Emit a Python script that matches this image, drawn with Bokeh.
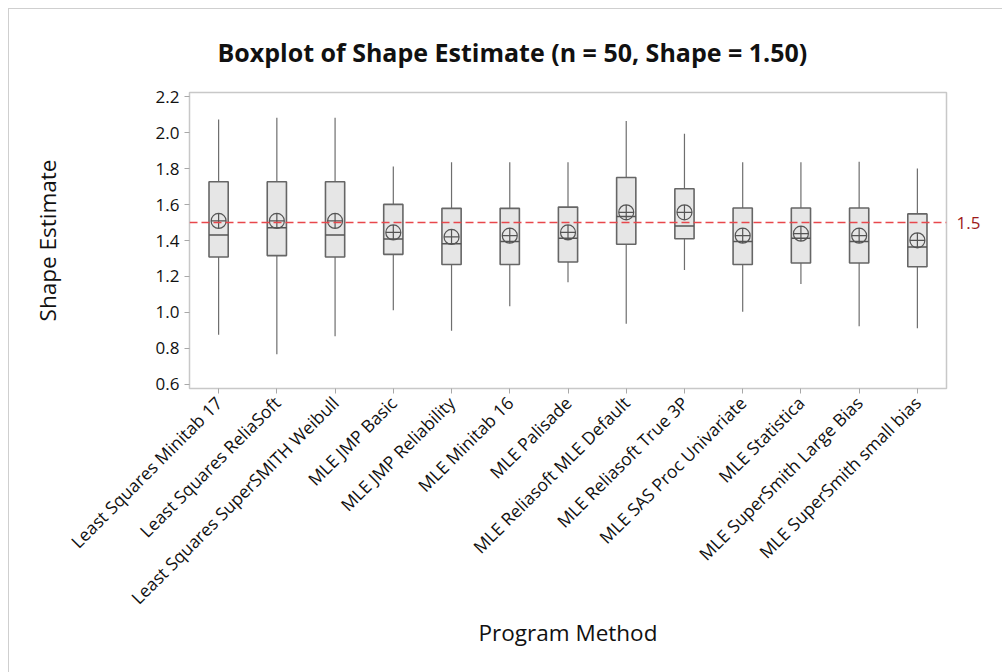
from bokeh.plotting import figure
from bokeh.models import (FactorRange, Range1d, FixedTicker, PrintfTickFormatter,
                          LinearAxis, Span, ColumnDataSource, Title)
from bokeh.embed import file_html
from bokeh.resources import INLINE
import math

categories = [
    "Least Squares Minitab 17", "Least Squares ReliaSoft", "Least Squares SuperSMITH Weibull",
    "MLE JMP Basic", "MLE JMP Reliability", "MLE Minitab 16", "MLE Palisade",
    "MLE Reliasoft MLE Default", "MLE Reliasoft True 3P", "MLE SAS Proc Univariate",
    "MLE Statistica", "MLE SuperSmith Large Bias", "MLE SuperSmith small bias",
]
whisker_low = [0.875, 0.767, 0.867, 1.012, 0.897, 1.034, 1.167, 0.937, 1.236, 1.004, 1.158, 0.922, 0.911]
q1 = [1.308, 1.316, 1.308, 1.323, 1.266, 1.266, 1.280, 1.379, 1.410, 1.266, 1.275, 1.275, 1.254]
median = [1.431, 1.471, 1.431, 1.409, 1.382, 1.394, 1.412, 1.534, 1.481, 1.394, 1.412, 1.394, 1.364]
q3 = [1.727, 1.727, 1.727, 1.601, 1.579, 1.579, 1.586, 1.751, 1.688, 1.581, 1.581, 1.581, 1.548]
whisker_high = [2.074, 2.083, 2.083, 1.812, 1.835, 1.835, 1.835, 2.065, 1.994, 1.835, 1.835, 1.839, 1.801]
mean = [1.509, 1.509, 1.509, 1.445, 1.420, 1.427, 1.445, 1.557, 1.557, 1.427, 1.438, 1.427, 1.401]
y_ticks = [0.6, 0.8, 1.0, 1.2, 1.4, 1.6, 1.8, 2.0, 2.2]
reference_value = 1.5

FONT = "Open Sans"

src = ColumnDataSource(dict(cat=categories, lo=whisker_low, q1=q1, med=median,
                            q3=q3, hi=whisker_high, mean=mean))

p = figure(x_range=FactorRange(*categories, range_padding=0),
           y_range=Range1d(0.576, 2.224),
           frame_width=757, frame_height=296,
           min_border_left=180, min_border_right=56, min_border_top=82, min_border_bottom=285,
           output_backend="svg", toolbar_location=None, title=None)
p.styles = {"margin-left": "8px", "margin-top": "8px",
            "border-left": "1px solid #cfcfcf", "border-top": "1px solid #cfcfcf"}

title = Title(text="Boxplot of Shape Estimate (n = 50, Shape = 1.50)", align="left",
              offset=28, text_font=FONT, text_font_size="25px", text_font_style="bold",
              text_color="#111111", standoff=47)
p.add_layout(title, "above")

p.background_fill_color = "white"
p.border_fill_color = "white"
p.outline_line_color = "#c8c8c8"
p.outline_line_width = 1.5
p.xgrid.visible = False
p.ygrid.visible = False

# reference line
p.add_layout(Span(location=reference_value, dimension="width", line_color="#e8474c",
                  line_dash="8 4", line_width=1.5))

# whiskers
p.segment(x0="cat", y0="q3", x1="cat", y1="hi", source=src, line_color="#6e6e6e", line_width=1.2)
p.segment(x0="cat", y0="lo", x1="cat", y1="q1", source=src, line_color="#6e6e6e", line_width=1.2)
# boxes
p.vbar(x="cat", width=0.33, bottom="q1", top="q3", source=src, fill_color="#e6e6e6",
       line_color="#666666", line_width=1.6)
# median
p.vbar(x="cat", width=0.33, bottom="med", top="med", source=src, fill_color=None,
       line_color="#555555", line_width=1.5)
# mean
p.scatter(x="cat", y="mean", source=src, marker="circle_cross", size=15,
          fill_color=None, line_color="#555555", line_width=1.2)

# axes
xa = p.xaxis[0]
xa.axis_label = "Program Method"
xa.axis_label_text_font = FONT
xa.axis_label_text_font_size = "22.5px"
xa.axis_label_text_font_style = "normal"
xa.axis_label_text_color = "#111111"
xa.axis_label_standoff = -4
xa.major_label_orientation = math.pi / 4
xa.major_label_text_font = FONT
xa.major_label_text_font_size = "17.5px"
xa.major_label_text_color = "#111111"
xa.major_label_standoff = 6
xa.axis_line_color = "#c8c8c8"
xa.major_tick_line_color = "#a8a8a8"
xa.major_tick_in = 0
xa.major_tick_out = 5

ya = p.yaxis[0]
ya.ticker = FixedTicker(ticks=y_ticks)
ya.formatter = PrintfTickFormatter(format="%.1f")
ya.axis_label = "Shape Estimate"
ya.axis_label_text_font = FONT
ya.axis_label_text_font_size = "22.5px"
ya.axis_label_text_font_style = "normal"
ya.axis_label_text_color = "#111111"
ya.axis_label_standoff = 90
ya.major_label_text_font = FONT
ya.major_label_text_font_size = "17px"
ya.major_label_text_color = "#111111"
ya.major_label_standoff = 5
ya.axis_line_color = "#c8c8c8"
ya.major_tick_line_color = "#a8a8a8"
ya.major_tick_in = 0
ya.major_tick_out = 5
ya.minor_tick_line_color = None

ra = LinearAxis(ticker=FixedTicker(ticks=[reference_value]),
                formatter=PrintfTickFormatter(format="%.1f"))
ra.axis_line_color = None
ra.major_tick_line_color = None
ra.minor_tick_line_color = None
ra.major_label_text_color = "#9e1a1a"
ra.major_label_text_font = FONT
ra.major_label_text_font_size = "17px"
ra.major_label_standoff = 4
p.add_layout(ra, "right")

open("out.html", "w").write(file_html(p, INLINE))
